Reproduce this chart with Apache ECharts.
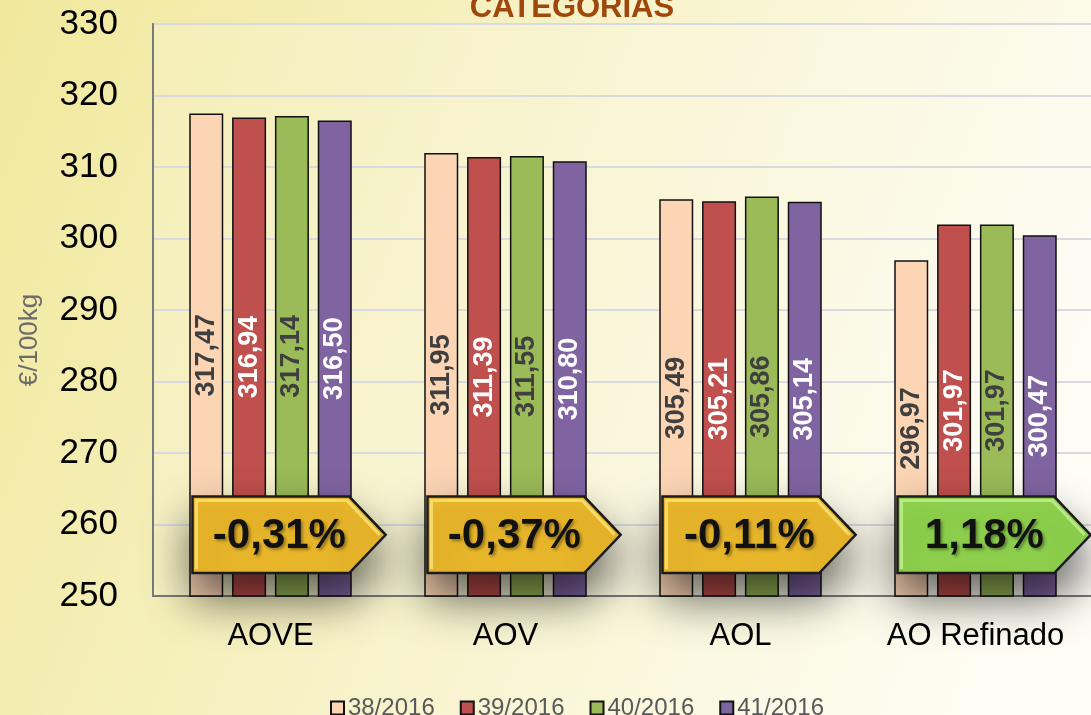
<!DOCTYPE html>
<html>
<head>
<meta charset="utf-8">
<script src="https://cdn.jsdelivr.net/npm/echarts@6/dist/echarts.min.js"></script>
<style>html,body{margin:0;padding:0;}#c{width:1091px;height:715px;}</style>
</head>
<body>
<div id="c"></div>
<script>
const categories = ['AOVE', 'AOV', 'AOL', 'AO Refinado'];
const seriesNames = ['38/2016', '39/2016', '40/2016', '41/2016'];
const s38 = [317.47, 311.95, 305.49, 296.97];
const s39 = [316.94, 311.39, 305.21, 301.97];
const s40 = [317.14, 311.55, 305.86, 301.97];
const s41 = [316.50, 310.80, 305.14, 300.47];
const changes = [-0.31, -0.37, -0.11, 1.18];
const yTicks = { min: 250, max: 330, interval: 10 };

const barColors = ['#fcd5b5', '#c0504d', '#9bbb59', '#8064a2'];
const labelColors = ['#3f3f3f', '#ffffff', '#3f3f3f', '#ffffff'];
const FONT = '"Liberation Sans", Arial, sans-serif';
const fmt = v => v.toFixed(2).replace('.', ',');

const chart = echarts.init(document.getElementById('c'));

const barSeries = [s38, s39, s40, s41].map((d, i) => ({
  name: seriesNames[i],
  type: 'bar',
  data: d,
  barWidth: 34,
  barGap: '26%',
  itemStyle: { color: barColors[i], borderColor: '#111', borderWidth: 1.5 },
  label: {
    show: true, position: 'inside', rotate: 90,
    fontFamily: FONT, fontSize: 27, fontWeight: 'bold',
    color: labelColors[i],
    formatter: p => fmt(p.value)
  },
  z: 2
}));

const arrowSeries = {
  type: 'custom',
  name: 'change',
  data: changes.map((v, i) => [i, v]),
  z: 5,
  silent: true,
  renderItem: function (params, api) {
    const idx = api.value(0);
    const v = api.value(1);
    const bw = api.size([1, 0])[0];
    const c = api.coord([idx, 258.5]);
    const top = api.coord([idx, 263.9])[1];
    const bot = api.coord([idx, 253.2])[1];
    const mid = (top + bot) / 2;
    const left = c[0] - 0.332 * bw;
    const bodyR = c[0] + 0.335 * bw;
    const tip = c[0] + 0.49 * bw;
    const fill = v >= 0 ? '#8fd24e' : '#ebb82a';
    const light = v >= 0 ? '#c4f090' : '#fbe37a';
    const txt = (v >= 0 ? '' : '-') + Math.abs(v).toFixed(2).replace('.', ',') + '%';
    return {
      type: 'group',
      children: [
        {
          type: 'polygon',
          shape: { points: [[left, top], [bodyR, top], [tip, mid], [bodyR, bot], [left, bot]] },
          style: {
            fill: fill, stroke: '#1b1b1b', lineWidth: 2.5,
            shadowBlur: 45, shadowColor: 'rgba(0,0,0,0.6)', shadowOffsetY: 24
          }
        },
        {
          type: 'polyline',
          shape: { points: [[left + 4, bot - 4], [left + 4, top + 4], [bodyR - 2, top + 4], [tip - 6, mid]] },
          style: { stroke: light, lineWidth: 3, fill: null, opacity: 0.8 }
        },
        {
          type: 'text',
          style: {
            x: left + 0.45 * (tip - left), y: mid + 2,
            text: txt, align: 'center', verticalAlign: 'middle',
            font: 'bold 42px ' + FONT, fill: '#111',
            textShadowColor: 'rgba(0,0,0,0.35)', textShadowBlur: 3, textShadowOffsetX: 2, textShadowOffsetY: 2
          }
        }
      ]
    };
  }
};

chart.setOption({
  animation: false,
  backgroundColor: {
    type: 'linear', x: 0, y: 0, x2: 1, y2: 0.6,
    colorStops: [{ offset: 0, color: '#f1e89c' }, { offset: 0.55, color: '#f8f4cf' }, { offset: 1, color: '#fefdf4' }]
  },
  textStyle: { fontFamily: FONT },
  grid: {
    left: 153, top: 24, right: -2, bottom: 119,
    show: true, borderColor: '#7a7a7a', borderWidth: 2,
    backgroundColor: 'rgba(255,255,255,0.18)',
    outerBoundsMode: 'none', containLabel: false
  },
  legend: {
    data: seriesNames,
    left: 325, top: 691,
    itemWidth: 13, itemHeight: 13, itemGap: 25,
    icon: 'rect',
    textStyle: { fontSize: 24, color: '#595959', fontFamily: FONT, padding: [0, 0, 0, -1] }
  },
  xAxis: {
    type: 'category',
    data: categories,
    axisLine: { show: true, lineStyle: { color: '#7a7a7a', width: 2 } },
    axisTick: { show: false },
    axisLabel: { fontSize: 31, color: '#000', margin: 25, fontFamily: FONT }
  },
  yAxis: {
    type: 'value',
    min: yTicks.min, max: yTicks.max, interval: yTicks.interval,
    axisLine: { show: true, lineStyle: { color: '#7a7a7a', width: 2 } },
    axisTick: { show: false },
    axisLabel: { fontSize: 35, color: '#000', margin: 35, fontFamily: FONT },
    splitLine: { lineStyle: { color: '#d9d9e2', width: 2 } }
  },
  graphic: [
    {
      type: 'text', x: 572, y: 8,
      style: { text: 'CATEGORIAS', font: 'bold 31px ' + FONT, fill: '#a0470b', align: 'center', verticalAlign: 'middle' }
    },
    {
      type: 'text', x: 30, y: 340, rotation: Math.PI / 2,
      style: { text: '€/100kg', font: '26px ' + FONT, fill: '#6b6b6b', align: 'center', verticalAlign: 'middle' }
    }
  ],
  series: barSeries.concat([arrowSeries])
});
</script>
</body>
</html>
